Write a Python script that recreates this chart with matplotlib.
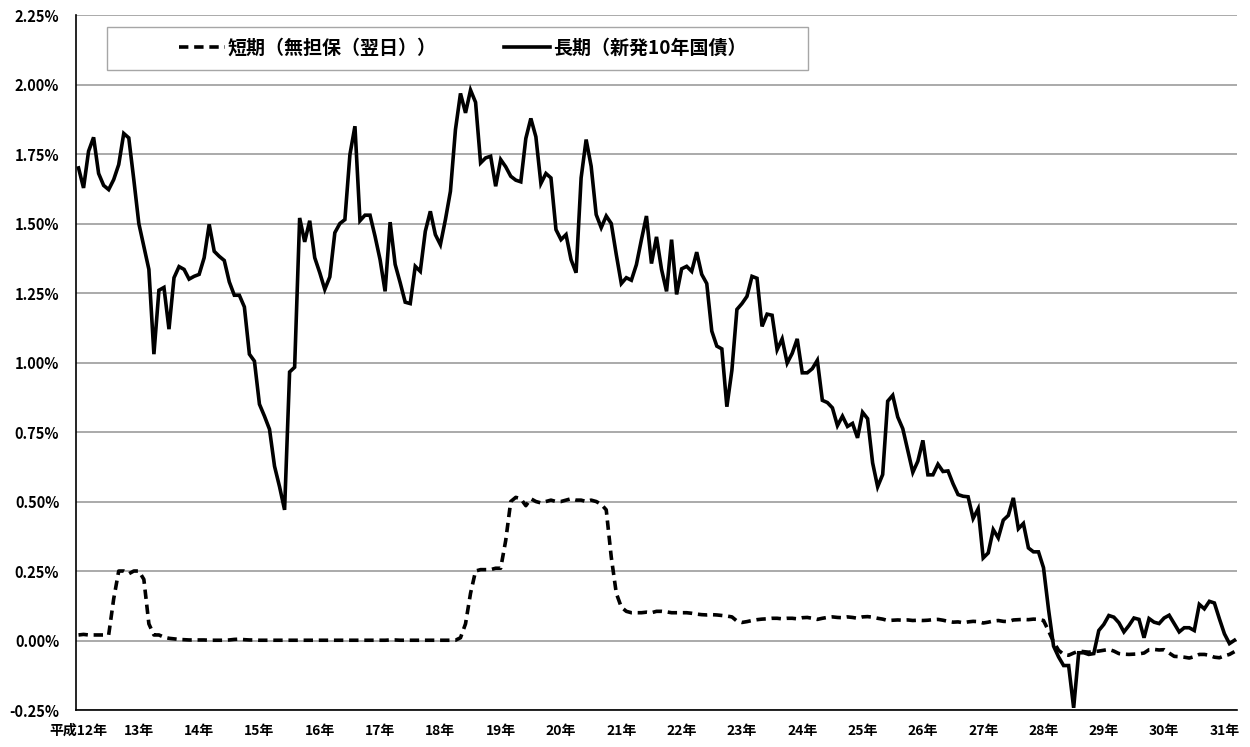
import numpy as np
import matplotlib
matplotlib.use("Agg")
import matplotlib.pyplot as plt
from matplotlib.patches import Rectangle
from matplotlib.lines import Line2D

plt.rcParams['font.family'] = ['Noto Sans CJK JP', 'DejaVu Sans']

# Monthly data, 平成12年1月 - 平成31年3月 (%)
long_rate = [
    # H12
    1.70, 1.628, 1.76, 1.81, 1.68, 1.637, 1.622, 1.658, 1.712, 1.824, 1.808, 1.658,
    # H13
    1.50, 1.418, 1.335, 1.03, 1.26, 1.27, 1.12, 1.305, 1.345, 1.335, 1.30, 1.31,
    # H14
    1.317, 1.377, 1.497, 1.40, 1.382, 1.367, 1.29, 1.242, 1.242, 1.20, 1.03, 1.005,
    # H15
    0.85, 0.807, 0.76, 0.627, 0.553, 0.47, 0.966, 0.983, 1.52, 1.434, 1.51, 1.377,
    # H16
    1.323, 1.263, 1.308, 1.467, 1.50, 1.514, 1.748, 1.85, 1.51, 1.53, 1.53, 1.454,
    # H17
    1.37, 1.256, 1.505, 1.353, 1.287, 1.217, 1.212, 1.346, 1.328, 1.472, 1.544, 1.46,
    # H18
    1.424, 1.514, 1.616, 1.838, 1.968, 1.898, 1.98, 1.936, 1.718, 1.736, 1.742, 1.634,
    # H19
    1.73, 1.704, 1.67, 1.656, 1.65, 1.806, 1.878, 1.812, 1.644, 1.68, 1.664, 1.478,
    # H20
    1.442, 1.46, 1.37, 1.323, 1.664, 1.802, 1.706, 1.532, 1.485, 1.527, 1.50, 1.388,
    # H21
    1.284, 1.305, 1.296, 1.352, 1.442, 1.527, 1.356, 1.452, 1.335, 1.256, 1.442, 1.245,
    # H22
    1.337, 1.346, 1.328, 1.397, 1.317, 1.284, 1.113, 1.059, 1.049, 0.841, 0.972, 1.191,
    # H23
    1.212, 1.238, 1.31, 1.303, 1.13, 1.174, 1.17, 1.046, 1.085, 0.998, 1.033, 1.085,
    # H24
    0.963, 0.963, 0.978, 1.008, 0.864, 0.856, 0.837, 0.773, 0.807, 0.77, 0.781, 0.729,
    # H25
    0.821, 0.798, 0.639, 0.553, 0.597, 0.861, 0.882, 0.804, 0.762, 0.684, 0.605, 0.645,
    # H26
    0.72, 0.596, 0.596, 0.634, 0.608, 0.61, 0.564, 0.525, 0.519, 0.517, 0.439, 0.474,
    # H27
    0.297, 0.315, 0.399, 0.369, 0.433, 0.45, 0.513, 0.402, 0.421, 0.333, 0.319, 0.319,
    # H28
    0.262, 0.112, -0.02, -0.059, -0.09, -0.09, -0.242, -0.044, -0.044, -0.05, -0.047, 0.036,
    # H29
    0.058, 0.09, 0.084, 0.064, 0.031, 0.054, 0.081, 0.076, 0.01, 0.079, 0.066, 0.061,
    # H30
    0.081, 0.091, 0.061, 0.031, 0.046, 0.046, 0.036, 0.13, 0.114, 0.141, 0.135, 0.078,
    # H31
    0.024, -0.011, 0.001,
]

short_rate = [
    # H12
    0.02, 0.022, 0.02, 0.02, 0.02, 0.02, 0.02, 0.15, 0.25, 0.25, 0.24, 0.25,
    # H13
    0.25, 0.22, 0.06, 0.02, 0.02, 0.012, 0.008, 0.006, 0.004, 0.003, 0.002, 0.002,
    # H14
    0.002, 0.002, 0.001, 0.001, 0.001, 0.001, 0.002, 0.004, 0.005, 0.003, 0.002, 0.002,
    # H15
    0.001, 0.001, 0.001, 0.001, 0.001, 0.001, 0.001, 0.001, 0.001, 0.001, 0.001, 0.001,
    # H16
    0.001, 0.001, 0.001, 0.001, 0.001, 0.001, 0.001, 0.001, 0.001, 0.001, 0.001, 0.001,
    # H17
    0.001, 0.001, 0.002, 0.002, 0.001, 0.001, 0.001, 0.001, 0.001, 0.001, 0.001, 0.001,
    # H18
    0.001, 0.001, 0.001, 0.001, 0.01, 0.06, 0.17, 0.25, 0.255, 0.255, 0.255, 0.26,
    # H19
    0.26, 0.36, 0.50, 0.515, 0.51, 0.485, 0.51, 0.50, 0.495, 0.50, 0.505, 0.50,
    # H20
    0.50, 0.505, 0.51, 0.505, 0.505, 0.50, 0.505, 0.50, 0.49, 0.47, 0.30, 0.17,
    # H21
    0.12, 0.105, 0.10, 0.10, 0.10, 0.102, 0.10, 0.105, 0.105, 0.103, 0.10, 0.10,
    # H22
    0.10, 0.10, 0.098, 0.095, 0.093, 0.092, 0.093, 0.092, 0.09, 0.088, 0.085, 0.07,
    # H23
    0.065, 0.068, 0.072, 0.075, 0.077, 0.078, 0.08, 0.08, 0.078, 0.08, 0.08, 0.078,
    # H24
    0.082, 0.083, 0.08, 0.076, 0.08, 0.083, 0.085, 0.083, 0.082, 0.085, 0.083, 0.08,
    # H25
    0.085, 0.086, 0.084, 0.08, 0.077, 0.072, 0.073, 0.074, 0.073, 0.074, 0.072, 0.073,
    # H26
    0.072, 0.073, 0.075, 0.076, 0.073, 0.069, 0.066, 0.067, 0.064, 0.067, 0.069, 0.068,
    # H27
    0.063, 0.066, 0.07, 0.072, 0.069, 0.068, 0.074, 0.075, 0.076, 0.075, 0.077, 0.076,
    # H28
    0.072, 0.035, -0.005, -0.035, -0.05, -0.053, -0.045, -0.038, -0.04, -0.042, -0.04, -0.038,
    # H29
    -0.035, -0.032, -0.038, -0.047, -0.049, -0.05, -0.049, -0.048, -0.045, -0.033, -0.032, -0.034,
    # H30
    -0.033, -0.045, -0.057, -0.058, -0.06, -0.063, -0.058, -0.05, -0.05, -0.053, -0.06, -0.062,
    # H31
    -0.055, -0.05, -0.04,
]

year_labels = ['平成12年'] + [f'{y}年' for y in range(13, 32)]
legend_labels = ['短期（無担保（翌日））', '長期（新発10年国債）']
y_ticks = [-0.25, 0.0, 0.25, 0.5, 0.75, 1.0, 1.25, 1.5, 1.75, 2.0, 2.25]

x = np.arange(len(long_rate))

fig = plt.figure(figsize=(12.5, 7.47), dpi=100)
ax = fig.add_axes([0.0608, 0.0495, 0.9288, 0.9304])

dash = (0, (2.6, 1.6))
ax.plot(x, short_rate, color='black', linewidth=2.6, linestyle=dash,
        solid_capstyle='butt', zorder=3)
ax.plot(x, long_rate, color='black', linewidth=2.6, solid_joinstyle='miter', zorder=4)

ax.set_xlim(-0.5, len(x) - 0.5)
ax.set_ylim(-0.25, 2.25)
ax.set_yticks(y_ticks)
ax.set_yticklabels([f'{v:.2f}%' for v in y_ticks], fontsize=10.5, fontweight='bold')
ax.set_xticks(np.arange(0, len(x), 12))
ax.set_xticklabels(year_labels, fontsize=10, fontweight='bold')
ax.tick_params(axis='both', length=0)
ax.tick_params(axis='y', pad=12)
ax.tick_params(axis='x', pad=10)

ax.grid(axis='y', color='#a0a0a0', linewidth=1.25)
ax.set_axisbelow(True)
for side in ['top', 'right']:
    ax.spines[side].set_visible(False)
for side in ['left', 'bottom']:
    ax.spines[side].set_color('black')
    ax.spines[side].set_linewidth(1.2)

# legend box
ax.add_patch(Rectangle((0.0267, 0.921), 0.604, 0.0617, transform=ax.transAxes,
                       facecolor='white', edgecolor='#a6a6a6', linewidth=1.0, zorder=5))
handles = [Line2D([], [], color='black', linewidth=2.6, linestyle=dash),
           Line2D([], [], color='black', linewidth=2.6)]
leg = ax.legend(handles, legend_labels, loc='center', bbox_to_anchor=(0.333, 0.9518),
                ncol=2, frameon=False, handlelength=2.45, handletextpad=0.15,
                columnspacing=3.5, prop={'size': 13.7, 'weight': 'bold'})
leg.set_zorder(6)

fig.savefig('out.png', dpi=100)
